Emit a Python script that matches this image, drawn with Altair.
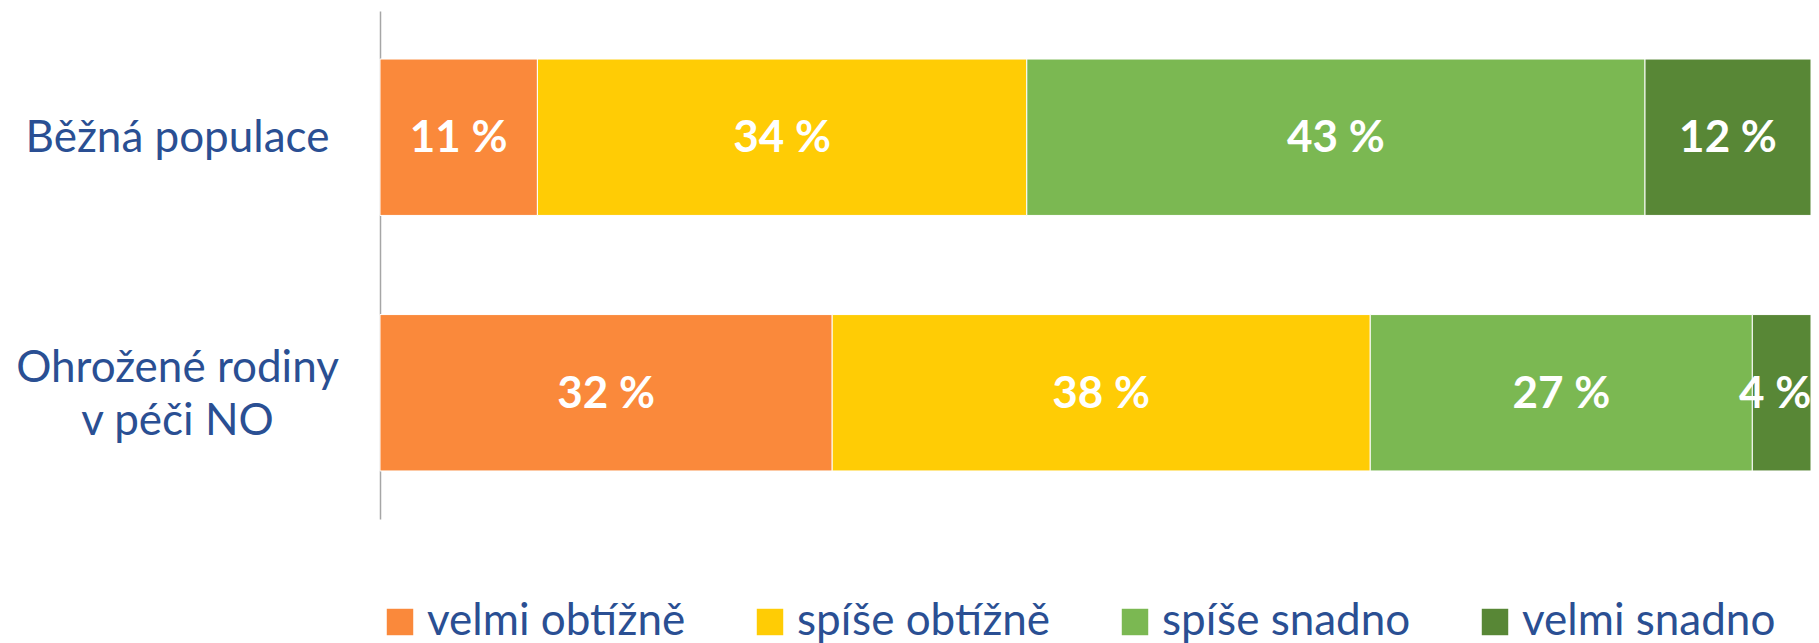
import altair as alt
import pandas as pd

groups = ["Běžná populace", "Ohrožené rodiny v péči NO"]
categories = ["velmi obtížně", "spíše obtížně", "spíše snadno", "velmi snadno"]
colors = ["#FA893B", "#FFCC05", "#7BB852", "#588736"]
bezna = [11.0, 34.2, 43.2, 11.6]
ohrozene = [31.6, 37.6, 26.7, 4.1]

rows = []
for g, vals in zip(groups, [bezna, ohrozene]):
    for i, (c, v) in enumerate(zip(categories, vals)):
        rows.append({"group": g, "cat": c, "order": i, "value": v})
df = pd.DataFrame(rows)

FONT = "Lato"
TEXTC = "#2A4F93"

base = alt.Chart(df).transform_stack(
    stack="value", groupby=["group"], as_=["x0", "x1"],
    sort=[alt.SortField("order", order="ascending")]
).transform_calculate(
    # keep the label inside the chart's right edge
    mid="min((datum.x0 + datum.x1) / 2, 97.5)",
    label="round(datum.value) + ' %'"
)

yenc = alt.Y("group:N", sort=groups, title=None,
             scale=alt.Scale(paddingInner=0.388, paddingOuter=0.188),
             axis=alt.Axis(
                 labelExpr="datum.label == 'Ohrožené rodiny v péči NO' ? ['Ohrožené rodiny', 'v péči NO'] : datum.label",
                 labelFont=FONT, labelFontSize=44, labelColor=TEXTC,
                 labelAlign="center", labelBaseline="middle", labelPadding=203,
                 labelLineHeight=53, labelLimit=600,
                 labelOffset={"condition": {"test": "datum.value == 'Ohrožené rodiny v péči NO'", "value": -24}, "value": 2},
                 ticks=False, tickSize=0, domainColor="#A6A6A6", domainWidth=1.5,
                 grid=False))

xscale = alt.Scale(domain=[0, 100], nice=False, zero=True)

bars = base.mark_bar(stroke="white", strokeWidth=1).encode(
    x=alt.X("x0:Q", scale=xscale, axis=None),
    x2="x1:Q",
    y=yenc,
    color=alt.Color("cat:N", sort=categories,
                    scale=alt.Scale(domain=categories, range=colors),
                    legend=alt.Legend(
                        title=None, orient="none", direction="horizontal",
                        legendX=-2, legendY=589, padding=0,
                        symbolType="square", symbolSize=700, symbolStrokeWidth=0,
                        symbolOpacity=1,
                        labelFont=FONT, labelFontSize=44, labelColor=TEXTC,
                        labelOffset=5, columnPadding=62, labelLimit=500)),
    order=alt.Order("order:Q")
)

texts = base.mark_text(color="white", font=FONT, fontWeight="bold", fontSize=44,
                       baseline="middle", align="center", dy=2).encode(
    x=alt.X("mid:Q", scale=xscale, axis=None),
    y=alt.Y("group:N", sort=groups),
    text="label:N"
)

chart = alt.layer(bars, texts).properties(
    width=1431, height=508,
    background="white",
    autosize=alt.AutoSizeParams(type="none"),
    padding={"left": 372, "top": 3, "right": 0, "bottom": 134}
).configure_view(stroke="transparent", strokeWidth=0)

chart.save("out.html", embed_options={"renderer": "svg", "actions": False})
